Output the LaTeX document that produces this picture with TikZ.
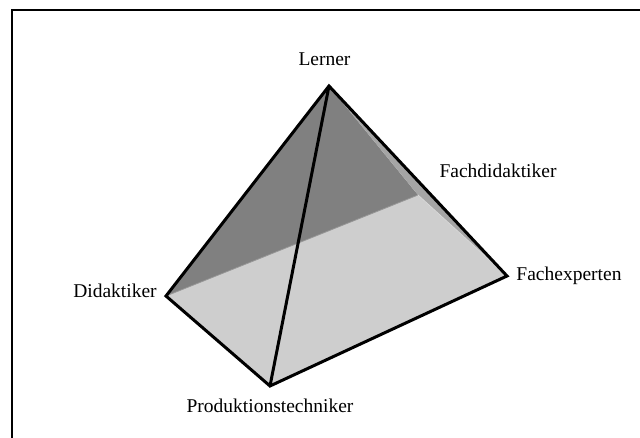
\documentclass[tikz,border=0pt]{standalone}
\usepackage{fontspec}
\setmainfont{Liberation Serif}
\definecolor{darkface}{RGB}{128,128,128}
\definecolor{midface}{RGB}{165,165,165}
\definecolor{lightface}{RGB}{206,206,206}
\definecolor{hiddenedge}{RGB}{150,150,150}
\begin{document}
\begin{tikzpicture}[x=1pt,y=-1pt,
  edge/.style={line width=3pt,line join=miter,black},
  hidden/.style={line width=0.8pt,hiddenedge},
  lbl/.style={font=\fontsize{19.5}{23}\selectfont,anchor=base,inner sep=0pt},
  frame/.style={line width=1.5pt,black}]
\useasboundingbox (0,0) rectangle (640,438);
\begin{scope}
\clip (0,0) rectangle (640,438);
\draw[frame] (12,450) -- (12,10) -- (650,10);
\end{scope}
% vertices
\coordinate (A) at (329,86);
\coordinate (D) at (166,296);
\coordinate (P) at (270,386);
\coordinate (E) at (507,276);
\coordinate (F) at (418,195);
% faces
\fill[lightface] (D) -- (P) -- (E) -- (F) -- cycle;
\fill[darkface] (A) -- (D) -- (F) -- cycle;
\fill[midface] (A) -- (F) -- (E) -- cycle;
\draw[hidden] (D) -- (F);
\draw[hidden,draw=lightface!80!white] (F) -- (E);
% visible edges
\draw[edge] (A) -- (D) -- (P) -- (E) -- cycle;
\draw[edge] (A) -- (P);
% labels
\node[lbl] (lA) at (324.5,66) {Lerner};
\node[lbl] (lF) at (498,178) {Fachdidaktiker};
\node[lbl] (lE) at (569,281) {Fachexperten};
\node[lbl] (lD) at (115,298) {Didaktiker};
\node[lbl] (lP) at (270,412) {Produktionstechniker};
\end{tikzpicture}
\end{document}
